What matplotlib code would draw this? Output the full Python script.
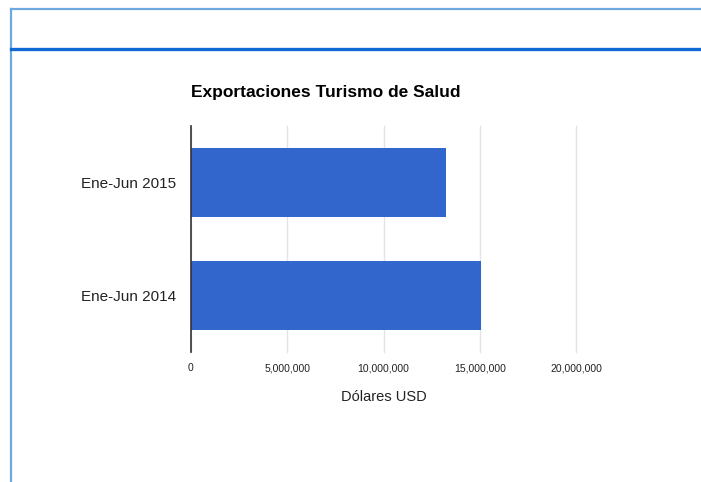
import numpy as np
import matplotlib.pyplot as plt
from matplotlib.lines import Line2D
from matplotlib.ticker import FuncFormatter

plt.rcParams['font.family'] = ['Liberation Sans', 'DejaVu Sans']

categories = ['Ene-Jun 2015', 'Ene-Jun 2014']
values = [13250000, 15060000]
xticks = [0, 5000000, 10000000, 15000000, 20000000]

W, H = 701, 482
fig = plt.figure(figsize=(W / 100.0, H / 100.0), dpi=100)

# page frame lines (pixel coords -> figure fraction)
def px(x, y):
    return x / float(W), 1 - y / float(H)

x0, y0 = px(10.5, 8.5)
x1, y1 = px(701, 8.5)
fig.add_artist(Line2D([x0, x1], [y0, y1], color='#6fa8e0', lw=1.6))
x0, y0 = px(10.5, 8.5)
x1, y1 = px(10.5, 482)
fig.add_artist(Line2D([x0, x1], [y0, y1], color='#6fa8e0', lw=1.6))
x0, y0 = px(11, 48.5)
x1, y1 = px(701, 48.5)
fig.add_artist(Line2D([x0, x1], [y0, y1], color='#1268d2', lw=2.4))

left, right = 191 / float(W), 576 / float(W)
top, bottom = 1 - 126 / float(H), 1 - 352 / float(H)
ax = fig.add_axes([left, bottom, right - left, top - bottom])

ypos = np.arange(len(categories))
ax.barh(ypos, values, height=0.61, color='#3366cc', zorder=3)
ax.set_ylim(len(categories) - 0.5, -0.5)
ax.set_xlim(0, 20000000)

ax.set_yticks(ypos)
ax.set_yticklabels(categories, fontsize=11, color='#222222')
ax.set_xticks(xticks)
ax.xaxis.set_major_formatter(FuncFormatter(lambda v, p: '{:,.0f}'.format(v)))
ax.tick_params(axis='x', labelsize=7.5, colors='#222222', length=0, pad=8)
ax.tick_params(axis='y', length=0, pad=11)
ax.grid(axis='x', color='#e4e4e4', lw=1, zorder=0)
for gl in ax.get_xgridlines():
    gl.set_clip_on(False)

for s in ['top', 'right', 'bottom']:
    ax.spines[s].set_visible(False)
ax.spines['left'].set_color('#333333')
ax.spines['left'].set_linewidth(1.2)
ax.spines['left'].set_zorder(4)

ax.set_xlabel('Dólares USD', fontsize=10.5, color='#222222', labelpad=12)
tx, ty = px(191, 93)
fig.text(tx, ty, 'Exportaciones Turismo de Salud', fontsize=12.5, fontweight='bold',
         color='#000000', ha='left', va='center')

fig.savefig('out.png', dpi=100)
